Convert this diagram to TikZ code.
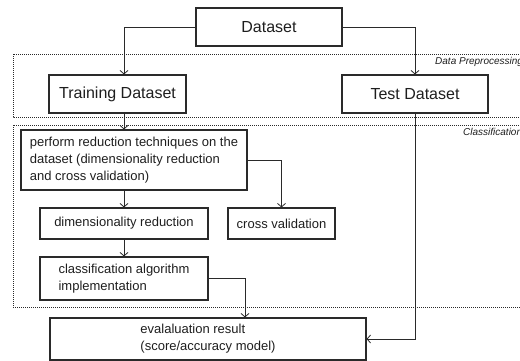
\documentclass[tikz,border=0pt]{standalone}
\usepackage{fontspec}
\setmainfont{Liberation Sans}
\usepackage{xcolor}
\usepackage{tikz}
\usetikzlibrary{calc,arrows.meta}
\definecolor{ink}{HTML}{1E1E1E}
\definecolor{edge}{HTML}{2A2A2A}
\tikzset{
  box/.style={draw=edge, line width=1.1pt, text=ink, inner sep=2pt, align=left},
  big/.style={font=\fontsize{16}{19}\selectfont},
  small/.style={font=\fontsize{13}{17}\selectfont},
  arr/.style={draw=edge, line width=0.8pt, -{Straight Barb[length=3.5pt,width=8pt]}},
  region/.style={draw=edge, line width=0.6pt, dash pattern=on 1pt off 1pt},
  tag/.style={text=ink, font=\itshape\fontsize{10}{12}\selectfont, inner sep=0pt},
}

\begin{document}
\begin{tikzpicture}[x=1pt,y=-1pt]
  \useasboundingbox (0,0) rectangle (520,360);

  % stage frames
  \draw[region] (13,54) rectangle (540,117);
  \draw[region] (13,125) rectangle (540,307);
  \node[tag,anchor=west] (tagpre) at (435,62) {Data Preprocessing};
  \node[tag,anchor=west] (tagcls) at (463,132) {Classification};

  % column for the vertical arrows
  \coordinate (colL) at (124,0);
  \coordinate (colE) at (245,0);

  \node[box,big,minimum width=146pt,minimum height=38pt] (data) at (269,27) {Dataset};
  \node[box,big,minimum width=137pt,minimum height=38pt] (train) at (117.5,94) {Training Dataset};
  \node[box,big,minimum width=146pt,minimum height=38pt] (test) at (415,94) {Test Dataset};

  \node[box,small,minimum width=226pt,minimum height=60pt] (reduce) at (134,160)
    {perform reduction techniques on the\\dataset (dimensionality reduction\\and cross validation)};
  \node[box,small,minimum width=168pt,minimum height=31pt] (dimred) at (124,223.5) {dimensionality reduction};
  \node[box,small,minimum width=107pt,minimum height=31pt] (crossval) at (281.5,223.5) {cross validation};
  \node[box,small,minimum width=168pt,minimum height=43pt] (algo) at (124,278.5)
    {classification algorithm\\implementation};
  \node[box,small,minimum width=316pt,minimum height=42pt] (eval) at (208,339)
    {evalaluation result\\(score/accuracy model)};

  \draw[arr] (data.west) -| (train.north -| colL);
  \draw[arr] (data.east) -| (test.north);
  \draw[arr] (train.south -| colL) -- (reduce.north -| colL);
  \draw[arr] (reduce.east) -| (crossval.north);
  \draw[arr] (reduce.south -| colL) -- (dimred.north -| colL);
  \draw[arr] (dimred.south -| colL) -- (algo.north -| colL);
  \draw[arr] (algo.east) -| (eval.north -| colE);
  \draw[arr] (test.south) |- (eval.east);
\end{tikzpicture}
\end{document}
